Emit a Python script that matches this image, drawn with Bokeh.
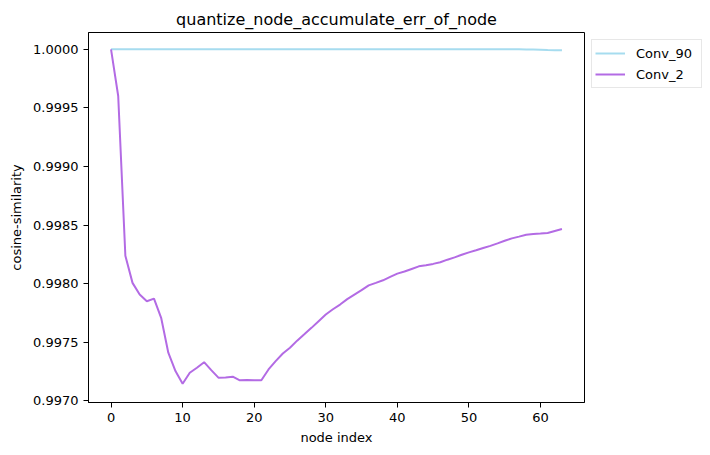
from bokeh.plotting import figure
from bokeh.models import Range1d, FixedTicker, PrintfTickFormatter, Legend, LegendItem
from bokeh.embed import file_html
from bokeh.resources import INLINE

node_index = list(range(64))

conv_90 = [1.0] * 58 + [0.999999, 0.999998, 0.999996, 0.999994, 0.999993, 0.999992]

conv_2 = [
    1.000000, 0.999602, 0.998239, 0.998007, 0.997907, 0.997850, 0.997873, 0.997709,
    0.997411, 0.997254, 0.997146, 0.997240, 0.997283, 0.997330, 0.997262, 0.997198,
    0.997200, 0.997206, 0.997175, 0.997178, 0.997176, 0.997176, 0.997268, 0.997339,
    0.997404, 0.997453, 0.997514, 0.997568, 0.997623, 0.997680, 0.997737, 0.997782,
    0.997822, 0.997868, 0.997907, 0.997945, 0.997986, 0.998007, 0.998029, 0.998058,
    0.998086, 0.998104, 0.998126, 0.998148, 0.998158, 0.998169, 0.998183, 0.998205,
    0.998225, 0.998247, 0.998267, 0.998285, 0.998305, 0.998323, 0.998344, 0.998366,
    0.998387, 0.998402, 0.998418, 0.998424, 0.998428, 0.998433, 0.998450, 0.998467,
]

x_ticks = [0, 10, 20, 30, 40, 50, 60]
y_ticks = [0.9970, 0.9975, 0.9980, 0.9985, 0.9990, 0.9995, 1.0000]

FONT = "DejaVu Sans"

p = figure(frame_width=496, frame_height=370, output_backend="svg", toolbar_location=None,
           x_range=Range1d(-3.15, 66.15), y_range=Range1d(0.996986, 1.000144),
           min_border_left=88, min_border_right=3, min_border_top=32, min_border_bottom=45)

p.title.text = "quantize_node_accumulate_err_of_node"
p.title.align = "center"
p.title.text_font = FONT
p.title.text_font_size = "16px"
p.title.text_font_style = "normal"
p.title.text_color = "black"
p.title.standoff = 7

r1 = p.line(node_index, conv_90, line_color="#a6dcef", line_width=2)
r2 = p.line(node_index, conv_2, line_color="#b36be4", line_width=2)

p.xgrid.visible = False
p.ygrid.visible = False
p.outline_line_color = "black"
p.outline_line_width = 1
p.background_fill_color = "white"
p.border_fill_color = "white"

p.xaxis.ticker = FixedTicker(ticks=x_ticks)
p.yaxis.ticker = FixedTicker(ticks=y_ticks)
p.yaxis.formatter = PrintfTickFormatter(format="%.4f")

for ax in (p.xaxis, p.yaxis):
    ax.axis_line_color = "black"
    ax.major_tick_line_color = "black"
    ax.major_tick_out = 5
    ax.major_tick_in = 0
    ax.minor_tick_line_color = None
    ax.major_label_text_font = FONT
    ax.major_label_text_font_size = "13px"
    ax.major_label_text_color = "black"
    ax.major_label_standoff = 5
    ax.axis_label_text_font = FONT
    ax.axis_label_text_font_size = "13px"
    ax.axis_label_text_font_style = "normal"
    ax.axis_label_text_color = "black"
    ax.axis_label_standoff = 5

p.yaxis.axis_label_standoff = 6
p.xaxis.axis_label = "node index"
p.yaxis.axis_label = "cosine-similarity"

legend = Legend(items=[LegendItem(label="Conv_90", renderers=[r1]),
                       LegendItem(label="Conv_2", renderers=[r2])],
                location="top_left")
legend.label_text_font = FONT
legend.label_text_font_size = "13px"
legend.label_text_color = "black"
legend.glyph_width = 30
legend.glyph_height = 20
legend.label_standoff = 11
legend.label_width = 62
legend.spacing = 1
legend.padding = 3
legend.margin = 7
legend.border_line_color = "#d0d0d0"
legend.border_line_width = 1
legend.background_fill_alpha = 1.0
p.add_layout(legend, "right")

open("out.html", "w").write(file_html(p, INLINE))
